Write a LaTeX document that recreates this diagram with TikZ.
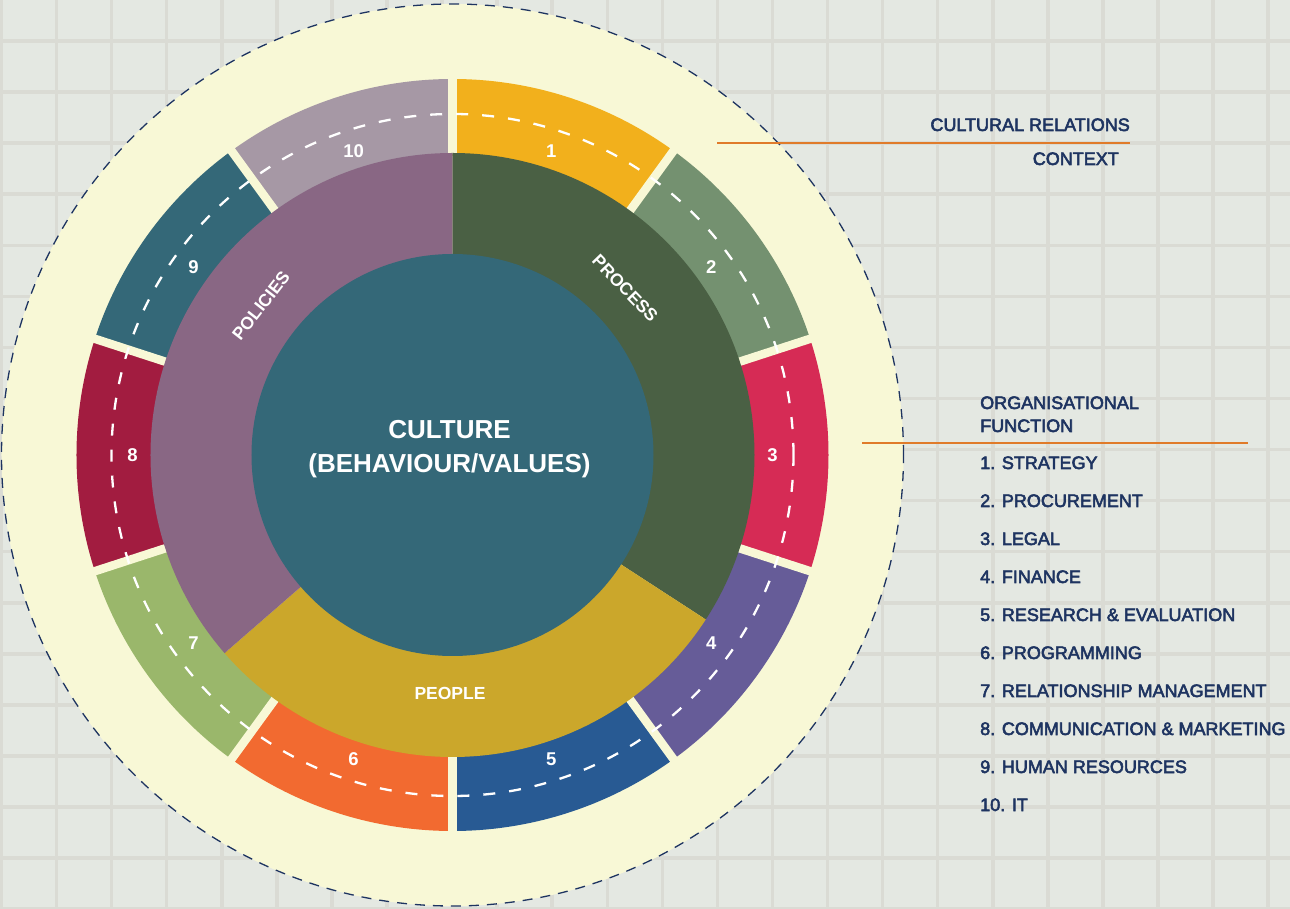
\documentclass[tikz,border=0pt]{standalone}
\usepackage{fontspec}
\setmainfont{Liberation Sans}
\newfontfamily\keyfont[FakeBold=3]{Liberation Sans}

\definecolor{paper}{HTML}{E4E8E2}
\definecolor{gridline}{HTML}{DADBD4}
\definecolor{cream}{HTML}{F8F8D6}
\definecolor{navy}{HTML}{1E3461}
\definecolor{rulecol}{HTML}{E07B2A}
\definecolor{coreteal}{HTML}{346878}
\definecolor{processgreen}{HTML}{4A6044}
\definecolor{peoplegold}{HTML}{CBA72B}
\definecolor{policiesmauve}{HTML}{896784}
\definecolor{segA}{HTML}{F2B01C}
\definecolor{segB}{HTML}{749170}
\definecolor{segC}{HTML}{D62B55}
\definecolor{segD}{HTML}{665C98}
\definecolor{segE}{HTML}{285A93}
\definecolor{segF}{HTML}{F26A30}
\definecolor{segG}{HTML}{9AB76B}
\definecolor{segH}{HTML}{A21C40}
\definecolor{segI}{HTML}{346878}
\definecolor{segJ}{HTML}{A698A5}

\begin{document}
\begin{tikzpicture}[x=1pt,y=1pt,
  seglabel/.style={text=white, inner sep=0pt, font=\bfseries\fontsize{18.5}{18.5}\selectfont},
  ringlabel/.style={text=white, inner sep=0pt, font=\bfseries\fontsize{17.5}{17.5}\selectfont},
  corelabel/.style={text=white, inner sep=0pt, font=\bfseries\fontsize{26}{26}\selectfont},
  keytext/.style={text=navy, inner sep=0pt, font=\keyfont\fontsize{18}{18}\selectfont},
  keyrule/.style={draw=rulecol, line width=2.6pt},
  gap/.style={draw=cream, line width=8.5pt},
  gridrule/.style={draw=gridline, line width=3.5pt}]

  % page and background grid
  \fill[paper] (-452.5,-454) rectangle (837.5,455);
  \useasboundingbox (-452.5,-454) rectangle (837.5,455);
  \foreach \k in {0,...,23}
    \draw[gridrule] ({-451+55.07*\k},-460) -- ({-451+55.07*\k},460);
  \foreach \k in {-1,...,17}
    \draw[gridrule] (-460,{414-51.07*\k}) -- (845,{414-51.07*\k});

  % outer context disc
  \fill[cream] (0,0) circle[radius=451];
  \draw[navy, line width=1.3pt, dash pattern=on 10pt off 8pt] (0,0) circle[radius=451];

  % ring of ten organisational functions
  \foreach \i/\c in {1/segA,2/segB,3/segC,4/segD,5/segE,6/segF,7/segG,8/segH,9/segI,10/segJ} {
    \pgfmathsetmacro{\aone}{90-36*\i}
    \pgfmathsetmacro{\atwo}{126-36*\i}
    \fill[\c] (\aone:299) arc[start angle=\aone, end angle=\atwo, radius=299]
      -- (\atwo:376) arc[start angle=\atwo, end angle=\aone, radius=376] -- cycle;
  }
  \foreach \k in {0,...,9}
    \draw[gap] ({90-36*\k}:301) -- ({90-36*\k}:380);
  \draw[white, line width=2.3pt, dash pattern=on 12pt off 14pt] (0,0) circle[radius=341];

  % middle ring: process, people, policies
  \fill[processgreen] (0,0) -- (90:302) arc[start angle=90, end angle=-33, radius=302] -- cycle;
  \fill[peoplegold] (0,0) -- (-33:302) arc[start angle=-33, end angle=-139, radius=302] -- cycle;
  \fill[policiesmauve] (0,0) -- (90:302) arc[start angle=90, end angle=221, radius=302] -- cycle;

  % core
  \fill[coreteal] (0,0) circle[radius=201];
  \node[corelabel, anchor=base] (core1) at (-3,16) {CULTURE};
  \node[corelabel, anchor=base] (core2) at (-3,-18) {(BEHAVIOUR/VALUES)};

  % ring labels
  \node[ringlabel, rotate=-46] (process) at (44:240) {PROCESS};
  \node[ringlabel] (people) at (-2.5,-238) {PEOPLE};
  \node[ringlabel, rotate=52] (policies) at (142:243) {POLICIES};

  % function numbers
  \foreach \i in {1,...,10}
    \node[seglabel] (num\i) at ({108-36*\i}:320) {\i};

  % key: context
  \coordinate (ctxA) at (264.5,312);
  \coordinate (ctxB) at (677.5,312);
  \draw[keyrule] (ctxA) -- (ctxB);
  \node[keytext, anchor=base east] (ctx1) at (677.5,324) {CULTURAL RELATIONS};
  \node[keytext, anchor=base east] (ctx2) at (666.5,290) {CONTEXT};

  % key: organisational functions
  \coordinate (orgA) at (409.5,12);
  \coordinate (orgB) at (795.5,12);
  \draw[keyrule] (orgA) -- (orgB);
  \node[keytext, anchor=base west] (org1) at (527.5,46) {ORGANISATIONAL};
  \node[keytext, anchor=base west] (org2) at (527.5,23) {FUNCTION};
  \foreach \k/\t in {1/STRATEGY,2/PROCUREMENT,3/LEGAL,4/FINANCE,
      5/RESEARCH \& EVALUATION,6/PROGRAMMING,7/RELATIONSHIP MANAGEMENT,
      8/COMMUNICATION \& MARKETING,9/HUMAN RESOURCES,10/IT}
    \node[keytext, anchor=base west] (item\k) at (527.5,{-14-38*(\k-1)}) {\k. \t};
\end{tikzpicture}
\end{document}
